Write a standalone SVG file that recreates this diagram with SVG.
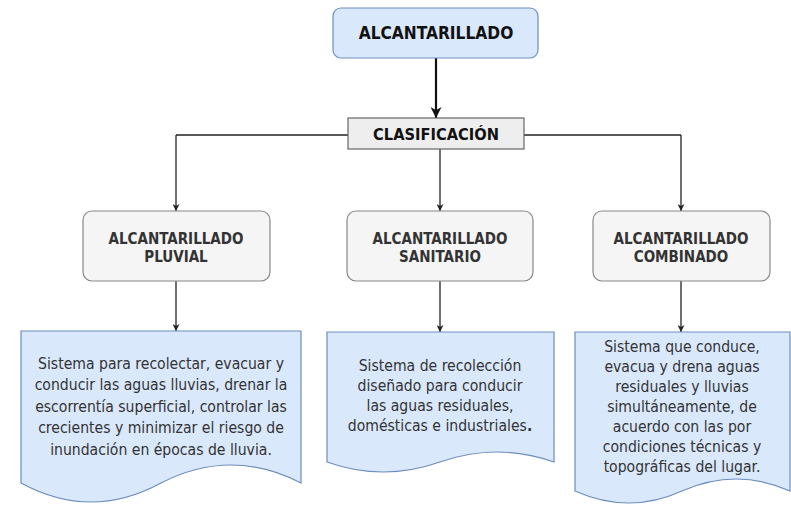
<svg xmlns="http://www.w3.org/2000/svg" width="791" height="512" viewBox="0 0 791 512">
<defs>
<style>
.bg{fill:#ffffff}
.top{fill:#dae8fc;stroke:#6c8ebf;stroke-width:1.2}
.cls{fill:#eeeeee;stroke:#666666;stroke-width:1.2}
.cat{fill:#f5f5f5;stroke:#888888;stroke-width:1.2}
.doc{fill:#dae8fc;stroke:#6c8ebf;stroke-width:1.2}
.ln{fill:none;stroke:#222222;stroke-width:1.3}
.thick{fill:none;stroke:#111111;stroke-width:2.2}
.h{font-family:"DejaVu Sans Condensed","DejaVu Sans",sans-serif;font-weight:bold;text-anchor:middle;fill:#111111}
.c{font-family:"DejaVu Sans Condensed","DejaVu Sans",sans-serif;font-weight:bold;text-anchor:middle;fill:#333333;font-size:15px}
.t{font-family:"DejaVu Sans Condensed","DejaVu Sans",sans-serif;text-anchor:middle;fill:#333333;font-size:15.6px}
</style>
<marker id="ar" viewBox="0 0 10 10" refX="10" refY="5" markerWidth="7" markerHeight="7" markerUnits="userSpaceOnUse" orient="auto">
<path d="M0,0 L10,5 L0,10 L3,5 Z" fill="#222222"/>
</marker>
<marker id="arb" viewBox="0 0 10 10" refX="10" refY="5" markerWidth="11" markerHeight="11" markerUnits="userSpaceOnUse" orient="auto">
<path d="M0,0 L10,5 L0,10 L3,5 Z" fill="#111111"/>
</marker>
</defs>
<rect class="bg" x="0" y="0" width="791" height="512"/>
<g id="connectors">
<path class="thick" d="M436,58 V118" marker-end="url(#arb)"/>
<path class="ln" d="M176,135 H348 M524,135 H681"/>
<path class="ln" d="M176,135 V211" marker-end="url(#ar)"/>
<path class="ln" d="M440,149 V211" marker-end="url(#ar)"/>
<path class="ln" d="M681,135 V211" marker-end="url(#ar)"/>
<path class="ln" d="M176,281 V331" marker-end="url(#ar)"/>
<path class="ln" d="M440,281 V332" marker-end="url(#ar)"/>
<path class="ln" d="M681,281 V332" marker-end="url(#ar)"/>
</g>
<g id="n-alcantarillado">
<rect class="top" x="333" y="8" width="205" height="50" rx="8"/>
<text class="h" x="436" y="39" font-size="17.2">ALCANTARILLADO</text>
</g>
<g id="n-clasificacion">
<rect class="cls" x="348" y="118" width="176" height="31"/>
<text class="h" x="436" y="139.5" font-size="16.3">CLASIFICACIÓN</text>
</g>
<g id="n-pluvial">
<rect class="cat" x="83" y="211" width="187" height="70" rx="9"/>
<text class="c" x="176" y="243.5">ALCANTARILLADO</text>
<text class="c" x="176" y="261.5">PLUVIAL</text>
</g>
<g id="n-sanitario">
<rect class="cat" x="347" y="211" width="186" height="70" rx="9"/>
<text class="c" x="440" y="243.5">ALCANTARILLADO</text>
<text class="c" x="440" y="261.5">SANITARIO</text>
</g>
<g id="n-combinado">
<rect class="cat" x="593" y="211" width="177" height="70" rx="9"/>
<text class="c" x="681" y="243.5">ALCANTARILLADO</text>
<text class="c" x="681" y="261.5">COMBINADO</text>
</g>
<g id="d-pluvial">
<path class="doc" d="M21,331 H301 V483 Q231,447 161,483 Q91,521 21,483 Z"/>
<text class="t" x="161" y="368.5">Sistema para recolectar, evacuar y</text>
<text class="t" x="161" y="390">conducir las aguas lluvias, drenar la</text>
<text class="t" x="161" y="411.5">escorrentía superficial, controlar las</text>
<text class="t" x="161" y="433">crecientes y minimizar el riesgo de</text>
<text class="t" x="161" y="454.5">inundación en épocas de lluvia.</text>
</g>
<g id="d-sanitario">
<path class="doc" d="M327,332 H554 V462 Q497,442 440,462 Q383,482 327,462 Z"/>
<text class="t" x="440" y="370.5">Sistema de recolección</text>
<text class="t" x="440" y="390.5">diseñado para conducir</text>
<text class="t" x="440" y="410.5">las aguas residuales,</text>
<text class="t" x="440" y="430.5">domésticas e industriales<tspan font-weight="bold">.</tspan></text>
</g>
<g id="d-combinado">
<path class="doc" d="M575,332 H790 V491 Q736,467 682,491 Q629,515 575,491 Z"/>
<text class="t" x="682" y="351.5">Sistema que conduce,</text>
<text class="t" x="682" y="371.5">evacua y drena aguas</text>
<text class="t" x="682" y="391.5">residuales y lluvias</text>
<text class="t" x="682" y="411.5">simultáneamente, de</text>
<text class="t" x="682" y="431.5">acuerdo con las por</text>
<text class="t" x="682" y="451.5">condiciones técnicas y</text>
<text class="t" x="682" y="471.5">topográficas del lugar.</text>
</g>
</svg>
